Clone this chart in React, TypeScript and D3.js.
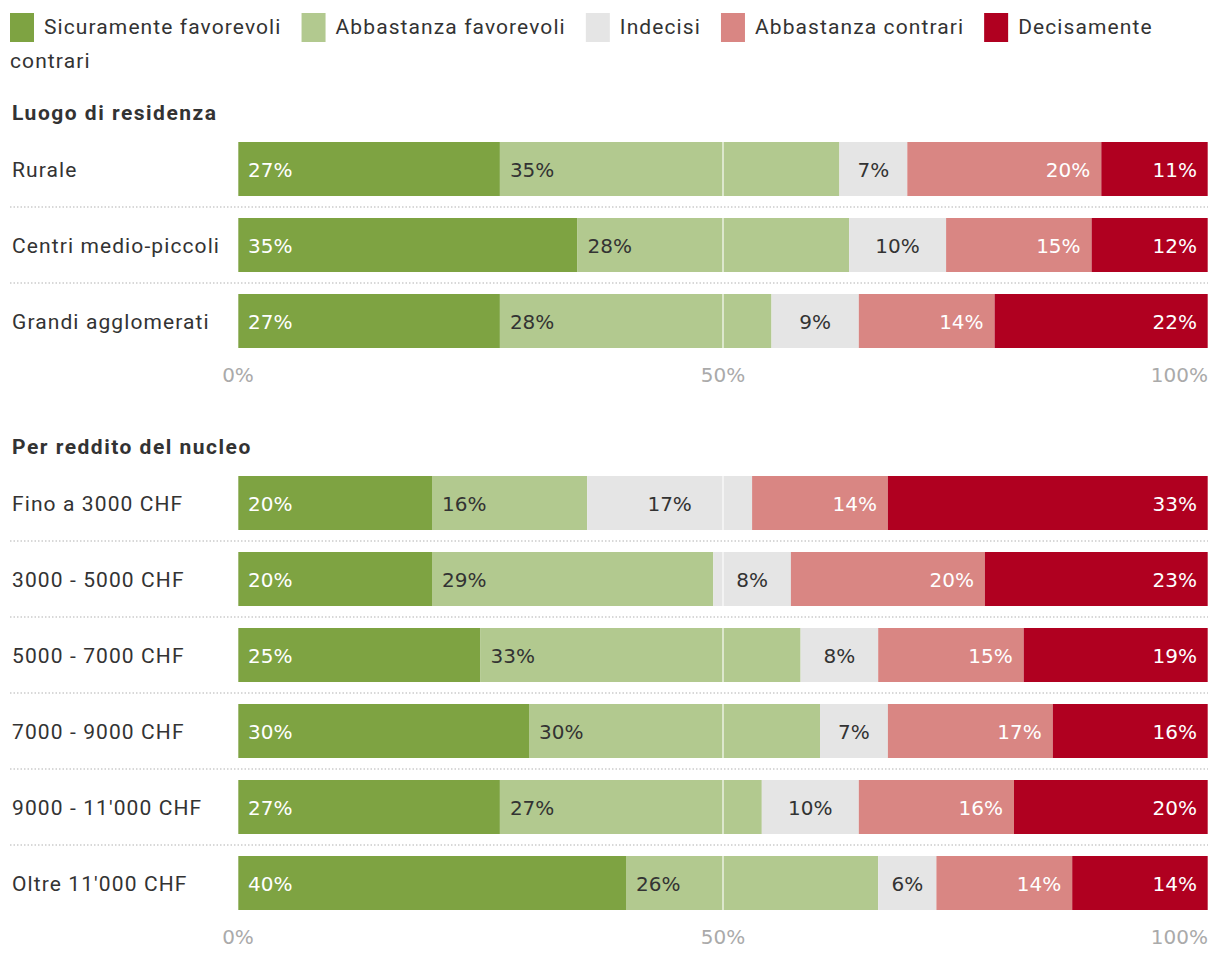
import React, { useEffect, useRef } from "react";
import * as d3 from "d3";

const seriesNames = [
  "Sicuramente favorevoli",
  "Abbastanza favorevoli",
  "Indecisi",
  "Abbastanza contrari",
  "Decisamente contrari",
];
const seriesColors = ["#7ea342", "#b2c98f", "#e5e5e5", "#d98683", "#b00020"];
const labelColors = ["#ffffff", "#333333", "#333333", "#ffffff", "#ffffff"];
const labelAnchors = ["start", "start", "middle", "end", "end"];

const residenzaCategories = ["Rurale", "Centri medio-piccoli", "Grandi agglomerati"];
const redditoCategories = [
  "Fino a 3000 CHF",
  "3000 - 5000 CHF",
  "5000 - 7000 CHF",
  "7000 - 9000 CHF",
  "9000 - 11'000 CHF",
  "Oltre 11'000 CHF",
];

// values per series, rows: 3 residenza + 6 reddito
const sicuramenteFavorevoli = [27, 35, 27, 20, 20, 25, 30, 27, 40];
const abbastanzaFavorevoli = [35, 28, 28, 16, 29, 33, 30, 27, 26];
const indecisi = [7, 10, 9, 17, 8, 8, 7, 10, 6];
const abbastanzaContrari = [20, 15, 14, 14, 20, 15, 17, 16, 14];
const decisamenteContrari = [11, 12, 22, 33, 23, 19, 16, 20, 14];

const axisTicks = [0, 50, 100];

const FONT = "Roboto, 'Noto Sans', sans-serif";
const NUM_FONT = "'DejaVu Sans', Roboto, sans-serif";
const FS = 21;
const TEXT_LS = 1.1;
const BOLD_LS = 1.5;
const NUM_FS = 20;

export default function App() {
  const ref = useRef<SVGSVGElement | null>(null);

  useEffect(() => {
    const svg = d3.select(ref.current);
    svg.selectAll("*").remove();

    const allSeries = [
      sicuramenteFavorevoli,
      abbastanzaFavorevoli,
      indecisi,
      abbastanzaContrari,
      decisamenteContrari,
    ];

    const x = d3.scaleLinear().domain([0, 100]).range([238, 1208]);

    // Legend
    const legend = svg
      .append("g")
      .attr("font-family", FONT)
      .attr("font-size", FS)
      .attr("letter-spacing", TEXT_LS)
      .attr("fill", "#333");
    let lx = 10;
    seriesNames.forEach((name, i) => {
      legend.append("rect").attr("x", lx).attr("y", 13).attr("width", 24).attr("height", 29).attr("fill", seriesColors[i]);
      const isLast = i === seriesNames.length - 1;
      const first = isLast ? name.split(" ")[0] : name;
      const t = legend.append("text").attr("x", lx + 34).attr("y", 34).text(first);
      const w = (t.node() as SVGTextElement).getComputedTextLength();
      if (isLast) {
        legend.append("text").attr("x", 10).attr("y", 68).text(name.split(" ").slice(1).join(" "));
      }
      lx += 34 + w + 20;
    });

    const sections = [
      { title: "Luogo di residenza", titleY: 120, cats: residenzaCategories, offset: 0, range: [142, 348] },
      { title: "Per reddito del nucleo", titleY: 454, cats: redditoCategories, offset: 3, range: [476, 910] },
    ];

    sections.forEach((sec) => {
      const g = svg.append("g").attr("font-family", FONT).attr("font-size", FS);
      g.append("text")
        .attr("x", 12)
        .attr("y", sec.titleY)
        .attr("font-weight", "bold")
        .attr("letter-spacing", BOLD_LS)
        .attr("fill", "#333")
        .text(sec.title);

      const y = d3
        .scaleBand<string>()
        .domain(sec.cats)
        .range(sec.range as [number, number])
        .paddingInner(22 / 76)
        .paddingOuter(0);
      const bw = y.bandwidth();

      sec.cats.forEach((cat, ri) => {
        const row = sec.offset + ri;
        const vals = allSeries.map((s) => s[row]);
        const stack = d3.cumsum(vals);
        const y0 = y(cat)!;
        const cy = y0 + bw / 2;

        g.append("text")
          .attr("x", 12)
          .attr("y", cy + 8)
          .attr("letter-spacing", TEXT_LS)
          .attr("fill", "#333")
          .text(cat);

        vals.forEach((v, si) => {
          const a = stack[si] - v;
          const b = stack[si];
          g.append("rect")
            .attr("x", x(a))
            .attr("y", y0)
            .attr("width", x(b) - x(a))
            .attr("height", bw)
            .attr("fill", seriesColors[si]);
        });

        // gridlines over bars
        axisTicks.forEach((t) => {
          const off = t === 50 ? 0 : t === 0 ? 0.5 : -0.5;
          g.append("line")
            .attr("x1", x(t) + off)
            .attr("x2", x(t) + off)
            .attr("y1", y0)
            .attr("y2", y0 + bw)
            .attr("stroke", "#ffffff")
            .attr("stroke-opacity", t === 50 ? 0.55 : 0.3)
            .attr("stroke-width", t === 50 ? 2 : 1);
        });

        vals.forEach((v, si) => {
          const a = stack[si] - v;
          const b = stack[si];
          const anchor = labelAnchors[si];
          const lxp = anchor === "start" ? x(a) + 10 : anchor === "end" ? x(b) - 11 : (x(a) + x(b)) / 2;
          g.append("text")
            .attr("x", lxp)
            .attr("y", cy + 8)
            .attr("font-family", NUM_FONT)
            .attr("font-size", NUM_FS)
            .attr("text-anchor", anchor)
            .attr("fill", labelColors[si])
            .text(`${v}%`);
        });

        if (ri < sec.cats.length - 1) {
          const sy = y0 + bw + (y.step() - bw) / 2;
          g.append("line")
            .attr("x1", 10)
            .attr("x2", 1208)
            .attr("y1", sy)
            .attr("y2", sy)
            .attr("stroke", "#cccccc")
            .attr("stroke-width", 1.5)
            .attr("stroke-dasharray", "1.5,2");
        }
      });

      const last = y(sec.cats[sec.cats.length - 1])! + bw;
      axisTicks.forEach((t, ti) => {
        const isLast = ti === axisTicks.length - 1;
        g.append("text")
          .attr("x", x(t))
          .attr("y", last + 34)
          .attr("font-family", NUM_FONT)
          .attr("font-size", NUM_FS)
          .attr("text-anchor", isLast ? "end" : "middle")
          .attr("fill", "#aaaaaa")
          .text(`${t}%`);
      });
    });
  }, []);

  return (
    <svg
      ref={ref}
      width={1220}
      height={960}
      style={{ position: "absolute", left: 0, top: 0, background: "#fff" }}
    />
  );
}
